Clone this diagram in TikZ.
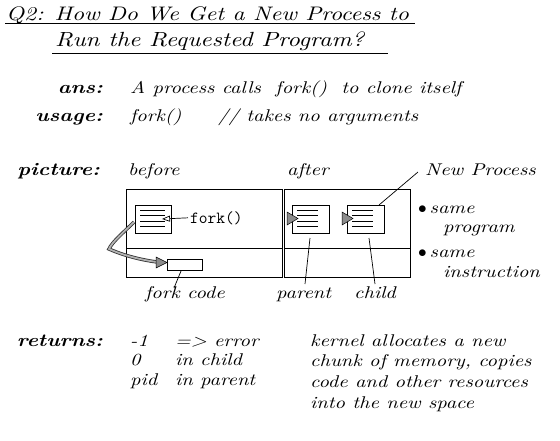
\documentclass[tikz,border=0pt]{standalone}
\usepackage{fontspec}
\newfontfamily\hand{lmroman10-italic.otf}[FakeStretch=1.2,BoldFont=lmroman10-bolditalic.otf]
\usetikzlibrary{arrows.meta}
\begin{document}
\begin{tikzpicture}[x=1pt,y=-1pt,
  txt/.style={anchor=base west,inner sep=0pt,font=\fontsize{17}{19}\selectfont\hand},
  lbl/.style={anchor=base east,inner sep=0pt,font=\fontsize{18}{20}\selectfont\hand\bfseries},
  ttl/.style={anchor=base west,inner sep=0pt,font=\fontsize{20.5}{22}\selectfont\hand},
  mono/.style={anchor=base west,inner sep=0pt,font=\fontsize{17}{19}\selectfont\ttfamily},
  box/.style={draw,line width=0.9pt,inner sep=0pt,anchor=north west},
  thin/.style={line width=0.7pt},
  hatch/.style={draw,line width=0.5pt,fill=black!45}]
\useasboundingbox (0,0) rectangle (560,440);
% title
\node[ttl,font=\fontsize{19.6}{22}\selectfont\hand] (t1) at (6,20) {Q2: How Do We Get a New Process to};
\node[ttl] (t2) at (55,46) {Run the Requested Program?};
\draw[line width=1pt] (5,23.5) coordinate (u1a) -- (415,23.5) coordinate (u1b);
\draw[line width=1pt] (52,53.5) coordinate (u2a) -- (388,53.5) coordinate (u2b);
% ans / usage
\node[lbl] (ans) at (103,93) {ans:};
\node[txt] (anst) at (130,93) {A process calls\ \ fork()\ \ to clone itself};
\node[lbl] (usage) at (103,121) {usage:};
\node[txt] (ust1) at (130,121) {fork()};
\node[txt] (ust2) at (218,121) {// takes no arguments};
% picture
\node[lbl] (pic) at (100,175) {picture:};
\node[txt] (before) at (128,175) {before};
\node[txt] (after) at (287,175) {after};
\node[txt] (newp) at (425,175) {New Process};
% before box
\node[box,minimum width=156pt,minimum height=88pt] (bbox) at (126,189) {};
\draw[thin] (126,248) coordinate (bdl) -- (282,248) coordinate (bdr);
\node[box,line width=0.7pt,minimum width=36pt,minimum height=28pt] (bin) at (135,205) {};
\draw[thin] (140,210) -- (165,210) (140,215.5) -- (165,215.5) (140,221) -- (165,221) (140,226.5) -- (165,226.5);
\node[mono] (fk) at (190,223) {fork()};
\draw[thin,-{Triangle[open,length=8pt,width=6pt]}] (fk.west) ++(-2,0) coordinate (fka) -- (162,219) coordinate (fkb);
\node[box,line width=0.7pt,minimum width=35pt,minimum height=11pt] (code) at (167,259) {};
\node[txt] (fcode) at (145,298) {fork code};
\draw[thin] (181,271) coordinate (cl1) -- (174,288) coordinate (cl2);
% curvy hatched arrow
\draw[line width=3.4pt,black!80] (134,222) .. controls (124,232) and (112,242) .. (109,249)
  .. controls (125,256) and (142,260) .. (157,262);
\draw[line width=1.8pt,black!30] (134,222) .. controls (124,232) and (112,242) .. (109,249)
  .. controls (125,256) and (142,260) .. (157,262);
\draw[hatch] (156,257) -- (167,262.5) -- (156,268) -- cycle;
% after box
\node[box,minimum width=126pt,minimum height=88pt] (abox) at (284,189) {};
\draw[thin] (284,248) -- (410,248);
\node[box,line width=0.7pt,minimum width=37pt,minimum height=28pt] (par) at (292,205) {};
\node[box,line width=0.7pt,minimum width=37pt,minimum height=28pt] (chi) at (347,205) {};
\draw[thin] (297,210) -- (318,210) (297,215.5) -- (318,215.5) (297,221) -- (318,221) (297,226.5) -- (318,226.5);
\draw[thin] (352,210) -- (373,210) (352,215.5) -- (373,215.5) (352,221) -- (373,221) (352,226.5) -- (373,226.5);
\draw[hatch] (287,212) -- (298,218.5) -- (287,225) -- cycle;
\draw[hatch] (342,212) -- (353,218.5) -- (342,225) -- cycle;
\draw[thin] (379,205) -- (418,172) coordinate (np);
\node[txt] (parent) at (276,298) {parent};
\node[txt] (child) at (354,298) {child};
\draw[thin] (310,238) -- (305,284);
\draw[thin] (369,238) -- (375,284);
\node[txt] (s1) at (418,213) {$\bullet$\,same};
\node[txt] (s2) at (443,232) {program};
\node[txt] (s3) at (418,257) {$\bullet$\,same};
\node[txt] (s4) at (443,277) {instruction};
% returns
\node[lbl] (ret) at (103,346) {returns:};
\node[txt] (r1a) at (130,346) {-1};
\node[txt] (r1b) at (175,346) {=>\ error};
\node[txt] (r2a) at (130,365) {0};
\node[txt] (r2b) at (175,365) {in child};
\node[txt] (r3a) at (130,385) {pid};
\node[txt] (r3b) at (175,385) {in parent};
\node[txt] (k1) at (310,346) {kernel allocates a new};
\node[txt] (k2) at (310,366) {chunk of memory, copies};
\node[txt] (k3) at (310,387) {code and other resources};
\node[txt] (k4) at (310,408) {into the new space};
\end{tikzpicture}
\end{document}
